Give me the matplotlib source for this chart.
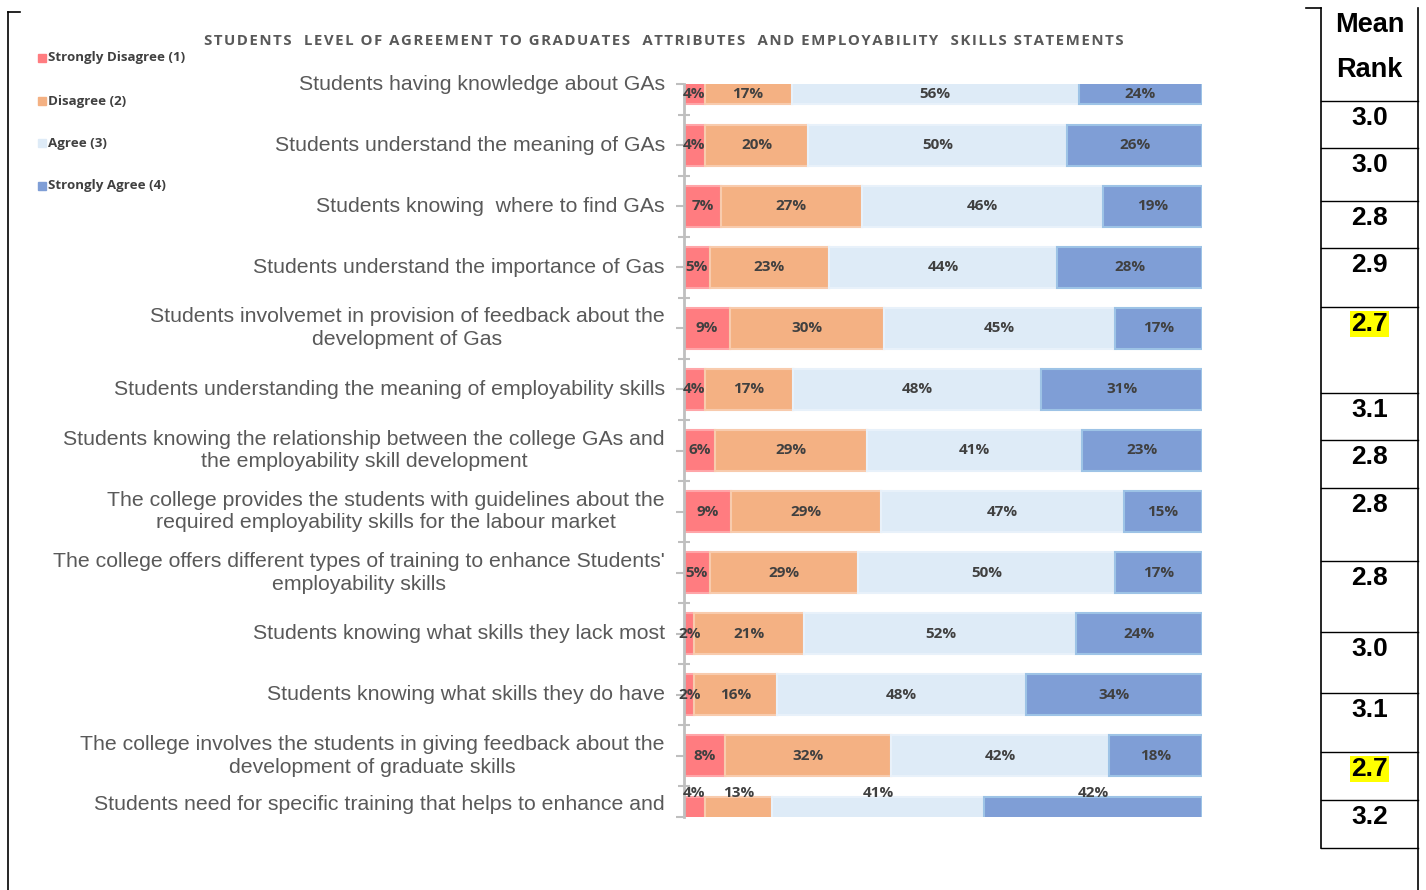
import pandas as pd
import matplotlib.pyplot as plt
from matplotlib.lines import Line2D
from matplotlib.patches import Rectangle

# statements, one per bar (top to bottom)
statements = [
    "Students having knowledge about GAs",
    "Students understand the meaning of GAs",
    "Students knowing  where to find GAs",
    "Students understand the importance of Gas",
    "Students involvemet in provision of feedback about the\ndevelopment of Gas",
    "Students understanding the meaning of employability skills",
    "Students knowing the relationship between the college GAs and\nthe employability skill development",
    "The college provides the students with guidelines about the\nrequired employability skills for the labour market",
    "The college offers different types of training to enhance Students'\nemployability skills",
    "Students knowing what skills they lack most",
    "Students knowing what skills they do have",
    "The college involves the students in giving feedback about the\ndevelopment of graduate skills",
    "Students need for specific training that helps to enhance and",
]

series_names = ["Strongly Disagree (1)", "Disagree (2)", "Agree (3)", "Strongly Agree (4)"]

strongly_disagree = [4, 4, 7, 5, 9, 4, 6, 9, 5, 2, 2, 8, 4]
disagree = [17, 20, 27, 23, 30, 17, 29, 29, 29, 21, 16, 32, 13]
agree = [56, 50, 46, 44, 45, 48, 41, 47, 50, 52, 48, 42, 41]
strongly_agree = [24, 26, 19, 28, 17, 31, 23, 15, 17, 24, 34, 18, 42]

mean_rank = ["3.0", "3.0", "2.8", "2.9", "2.7", "3.1", "2.8", "2.8", "2.8", "3.0", "3.1", "2.7", "3.2"]
highlighted = ["2.7"]

title = "STUDENTS  LEVEL OF AGREEMENT TO GRADUATES  ATTRIBUTES  AND EMPLOYABILITY  SKILLS STATEMENTS"

colors = ["#FF7C80", "#F4B183", "#DEEBF7", "#7F9ED6"]
edges = ["#FFA5A8", "#F8CBAD", "#E8F1FA", "#9DC3E6"]

df = pd.DataFrame({
    series_names[0]: strongly_disagree,
    series_names[1]: disagree,
    series_names[2]: agree,
    series_names[3]: strongly_agree,
}, index=statements)

# 100% stacked: each row is scaled to its own total
shares = df.div(df.sum(axis=1), axis=0) * 100

W, H = 1426, 890
fig = plt.figure(figsize=(W / 100, H / 100), dpi=100)

ax_top, ax_bot = 84, 817
ax = fig.add_axes([684 / W, 1 - ax_bot / H, (1202 - 684) / W, (ax_bot - ax_top) / H])

n = len(statements)
ypos = list(range(n))
left = [0.0] * n
for i, name in enumerate(series_names):
    ax.barh(ypos, shares[name], left=left, height=0.67, color=colors[i],
            edgecolor=edges[i], linewidth=1.5)
    for r in range(n):
        xc = left[r] + shares[name].iloc[r] / 2
        yc = min(max(r, 0.17), (n - 1) - 0.39)
        ax.text(xc, yc, f"{df[name].iloc[r]}%", ha="center", va="center",
                fontsize=11, fontweight="bold", color="#404040", family="Open Sans",
                clip_on=False)
    left = [l + v for l, v in zip(left, shares[name])]

# statement labels to the left of the axis
for r, s in enumerate(statements):
    yc = min(r, (n - 1) - 0.2)
    ax.text(-3.7, yc, s, ha="right", va="center", multialignment="center",
            fontsize=15.3, color="#595959", family="Liberation Sans",
            linespacing=1.25, clip_on=False)

for side in ["top", "right", "bottom"]:
    ax.spines[side].set_visible(False)
ax.spines["left"].set_color("#BFBFBF")
ax.spines["left"].set_linewidth(2)
ax.set_xticks([])
ax.set_yticks(ypos)
ax.set_yticklabels([])
ax.set_yticks([r + 0.5 for r in range(-1, n)], minor=True)
ax.tick_params(axis="y", which="major", direction="out", length=6, width=1.5, color="#BFBFBF")
ax.tick_params(axis="y", which="minor", direction="inout", length=8, width=1.5, color="#BFBFBF")

# view limits cut the first and last bars in half
ax.set_xlim(0, 100)
ax.set_ylim(n - 1, 0)

# title, letter-spaced with hair spaces
spaced_title = "\u200a".join(title)
fig.text(664 / W, 1 - 41 / H, spaced_title,
         ha="center", va="center", fontsize=10.8, fontweight="bold", color="#595959",
         family=["Open Sans", "DejaVu Sans"])

# legend on the left, one entry per row
legend_y = [58, 101, 143, 186]
for i, name in enumerate(series_names):
    y = legend_y[i]
    fig.add_artist(Rectangle((38 / W, 1 - (y + 4) / H), 8 / W, 8 / H,
                             transform=fig.transFigure, color=colors[i]))
    fig.text(48 / W, 1 - y / H, name, ha="left", va="center", fontsize=9.6,
             fontweight="bold", color="#404040", family="Open Sans")

# outer frame corner
def fig_line(x0, y0, x1, y1, lw=1.2):
    fig.add_artist(Line2D([x0 / W, x1 / W], [1 - y0 / H, 1 - y1 / H],
                          transform=fig.transFigure, color="black", linewidth=lw))

fig_line(8, 12, 8, 890)
fig_line(8, 12, 20, 12)

# mean rank column
tl, tr = 1321, 1418
fig_line(1306, 8, tl, 8)
fig_line(tl, 8, tl, 848)
fig_line(tr, 8, tr, 890)
row_lines = [101, 148, 201, 248, 307, 393, 440, 488, 561, 632, 693, 752, 800, 848]
for y in row_lines:
    fig_line(tl, y, tr, y, lw=1.0)

fig.text((tl + tr) / 2 / W, 1 - 25 / H, "Mean", ha="center", va="center",
         fontsize=19.5, fontweight="bold", family="Liberation Sans", color="black")
fig.text((tl + tr) / 2 / W, 1 - 70 / H, "Rank", ha="center", va="center",
         fontsize=19.5, fontweight="bold", family="Liberation Sans", color="black")
for r, val in enumerate(mean_rank):
    y = row_lines[r] + 17
    box = dict(facecolor="#FFFF00", edgecolor="none", pad=1) if val in highlighted else None
    fig.text((tl + tr) / 2 / W, 1 - y / H, val, ha="center", va="center",
             fontsize=19, fontweight="bold", family="Liberation Sans", color="black",
             bbox=box)

fig.savefig("out.png", dpi=100)
